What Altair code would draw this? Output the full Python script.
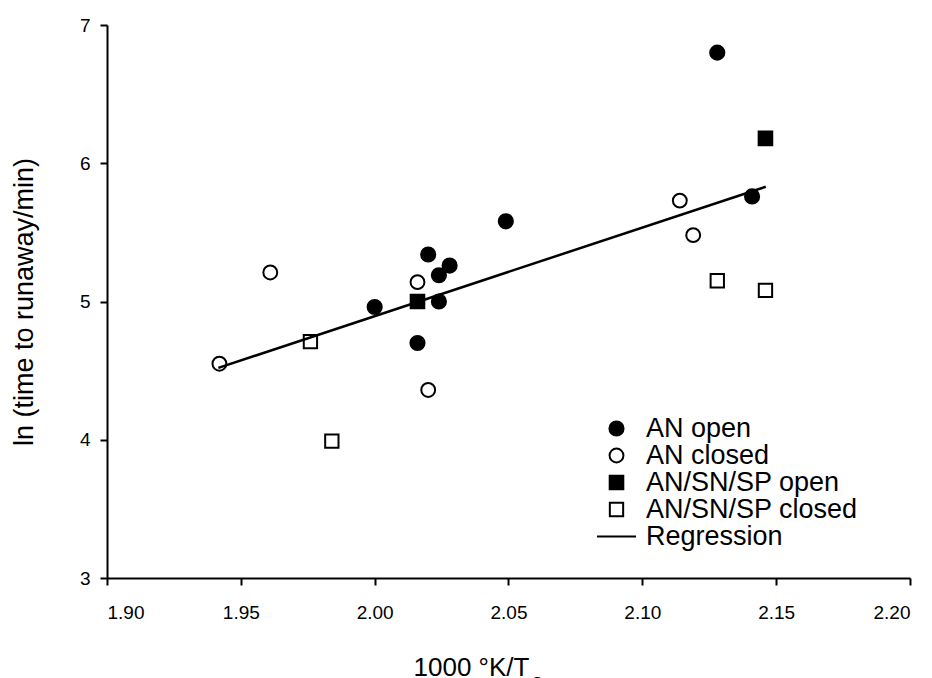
import altair as alt
import pandas as pd

FONT = "Liberation Sans"

series_names = ["AN open", "AN closed", "AN/SN/SP open", "AN/SN/SP closed", "Regression"]
series_fill = ["black", "white", "black", "white", "black"]
series_stroke = ["black", "black", "black", "black", "black"]
series_shape = ["circle", "circle", "square", "square", "M-3,0L3,0"]
series_size = [200, 170, 200, 150, 144]

an_open_x = [2.020, 2.028, 2.024, 2.024, 2.000, 2.016, 2.049, 2.128, 2.141]
an_open_y = [5.34, 5.26, 5.19, 5.00, 4.96, 4.70, 5.58, 6.80, 5.76]
an_closed_x = [1.961, 2.016, 1.942, 2.020, 2.114, 2.119]
an_closed_y = [5.21, 5.14, 4.55, 4.36, 5.73, 5.48]
mix_open_x = [2.016, 2.146]
mix_open_y = [5.00, 6.18]
mix_closed_x = [1.976, 1.984, 2.128, 2.146]
mix_closed_y = [4.71, 3.99, 5.15, 5.08]
reg_x = [1.9416, 2.1461]
reg_y = [4.52, 5.83]

x_ticks = [1.90, 1.95, 2.00, 2.05, 2.10, 2.15, 2.20]
y_ticks = [3, 4, 5, 6, 7]

x_title = "1000 °K/T"
x_subscript = ["o"]
y_title = "ln (time to runaway/min)"

rows = []
for name, xs, ys in [
    ("AN open", an_open_x, an_open_y),
    ("AN closed", an_closed_x, an_closed_y),
    ("AN/SN/SP open", mix_open_x, mix_open_y),
    ("AN/SN/SP closed", mix_closed_x, mix_closed_y),
]:
    for xv, yv in zip(xs, ys):
        rows.append({"x": xv, "y": yv, "series": name})
pts = pd.DataFrame(rows)
reg = pd.DataFrame({"x": reg_x, "y": reg_y})

xscale = alt.Scale(domain=[1.90, 2.20], nice=False, zero=False)
yscale = alt.Scale(domain=[3, 7], nice=False, zero=False)

xaxis = alt.Axis(values=x_ticks, format=".2f", title=x_title, titleX=306, titleY=97,
                 titleAlign="left", titleBaseline="alphabetic", titleFontSize=26,
                 titleFontWeight="normal", titleFont=FONT, titleColor="black",
                 labelPadding=18, grid=False)
yaxis = alt.Axis(values=y_ticks, format="d", title=y_title, titleX=-75, titleY=276.5,
                 titleAngle=270, titleAlign="center", titleBaseline="alphabetic",
                 titleFontSize=27, titleFontWeight="normal", titleFont=FONT,
                 titleColor="black", labelPadding=10, grid=False)

leg = alt.Legend(title=None, orient="none", legendX=496, legendY=390, padding=0,
                 labelFontSize=27, labelFont=FONT, labelColor="black", labelOffset=16,
                 labelLimit=0, rowPadding=-1.5, symbolStrokeWidth=2)

points = alt.Chart(pts).mark_point(filled=True, stroke="black", strokeWidth=2,
                                   opacity=1, fillOpacity=1, strokeOpacity=1).encode(
    x=alt.X("x:Q", scale=xscale, axis=xaxis),
    y=alt.Y("y:Q", scale=yscale, axis=yaxis),
    fill=alt.Fill("series:N", scale=alt.Scale(domain=series_names, range=series_fill), legend=leg),
    stroke=alt.Stroke("series:N", scale=alt.Scale(domain=series_names, range=series_stroke), legend=leg),
    shape=alt.Shape("series:N", scale=alt.Scale(domain=series_names, range=series_shape), legend=leg),
    size=alt.Size("series:N", scale=alt.Scale(domain=series_names, range=series_size), legend=leg),
)

line = alt.Chart(reg).mark_line(color="black", strokeWidth=2.5).encode(
    x=alt.X("x:Q", scale=xscale),
    y=alt.Y("y:Q", scale=yscale),
)

sub = alt.Chart(pd.DataFrame({"t": x_subscript})).mark_text(
    align="left", baseline="alphabetic", fontSize=19, font=FONT, color="black"
).encode(text="t:N", x=alt.value(425), y=alt.value(662))

chart = alt.layer(points, line, sub).properties(
    width=803, height=553,
    autosize=alt.AutoSizeParams(type="none"),
    padding={"left": 107, "top": 25, "right": 22, "bottom": 100},
    background="white",
).configure_view(stroke=None).configure_axis(
    grid=False, domainColor="black", domainWidth=2, tickColor="black", tickWidth=2,
    tickSize=7, labelFont=FONT, labelFontSize=19, labelColor="black",
    titleFont=FONT, titleColor="black", titleFontWeight="normal",
)

chart.save("out.html", embed_options={"renderer": "svg", "actions": False})
